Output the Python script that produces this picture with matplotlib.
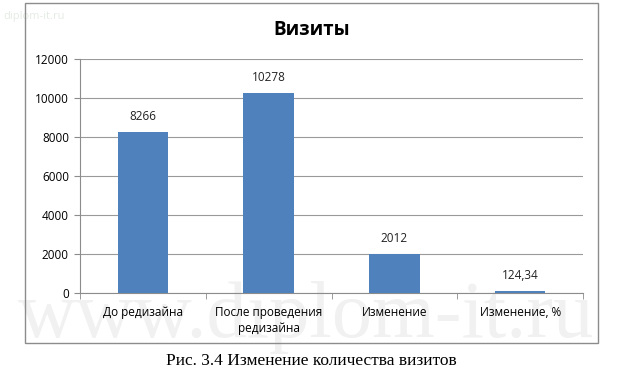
import matplotlib.pyplot as plt
from matplotlib.patches import Rectangle

categories = ["До редизайна", "После проведения\nредизайна", "Изменение", "Изменение, %"]
values = [8266, 10278, 2012, 124.34]
value_labels = ["8266", "10278", "2012", "124,34"]
y_ticks = [0, 2000, 4000, 6000, 8000, 10000, 12000]

plt.rcParams['font.family'] = ['Open Sans', 'DejaVu Sans']

fig = plt.figure(figsize=(6.32, 3.74), dpi=100)
W, H = 632.0, 374.0

# faint site watermarks (as in the scan), kept behind the chart
fig.text(3 / W, 1 - 17 / H, "diplom-it.ru", ha='left', va='center',
         fontsize=8, color='#e4ebe4', zorder=-2)
fig.text(306 / W, 1 - 317 / H, "www.diplom-it.ru", ha='center', va='center',
         fontsize=58, color='#f1f1f1', family='Liberation Serif', zorder=-2)

# chart frame
fig.patches.append(Rectangle((25 / W, 1 - 343 / H), (598 - 25) / W, (343 - 3) / H,
                             transform=fig.transFigure, fill=False,
                             edgecolor='#8c8c8c', linewidth=1.0))

ax = fig.add_axes([80 / W, 1 - 293 / H, (583 - 80) / W, (293 - 59) / H])
ax.patch.set_visible(False)
x = range(len(categories))
ax.bar(x, values, width=0.4, color='#4f81bd', zorder=3)
for xi, v, lab in zip(x, values, value_labels):
    ax.annotate(lab, (xi, v), xytext=(0, 6), textcoords='offset points',
                ha='center', va='bottom', fontsize=8.5, color='#222222')

ax.set_xlim(-0.5, len(categories) - 0.5)
ax.set_ylim(0, 12000)
ax.set_yticks(y_ticks)
ax.set_yticklabels([str(t) for t in y_ticks], fontsize=8.5)
ax.yaxis.grid(True, color='#9a9a9a', linewidth=0.8, zorder=0)
ax.set_xticks(list(x))
ax.set_xticklabels(categories, fontsize=8.5, linespacing=1.3)
ax.set_xticks([i - 0.5 for i in range(len(categories) + 1)], minor=True)
ax.tick_params(axis='x', which='major', length=0, pad=9.5)
ax.tick_params(axis='x', which='minor', length=4, color='#8c8c8c', direction='out')
ax.tick_params(axis='y', length=4, color='#8c8c8c', pad=4)
for s in ['top', 'right']:
    ax.spines[s].set_visible(False)
for s in ['left', 'bottom']:
    ax.spines[s].set_color('#8c8c8c')
    ax.spines[s].set_linewidth(0.8)

fig.text(312 / W, 1 - 30 / H, "Визиты", ha='center', va='center',
         fontsize=13.5, fontweight='bold')

fig.text(311 / W, 1 - 361 / H, "Рис. 3.4 Изменение количества визитов",
         ha='center', va='center', fontsize=12.5, family='Liberation Serif')

fig.savefig("out.png", dpi=100)
